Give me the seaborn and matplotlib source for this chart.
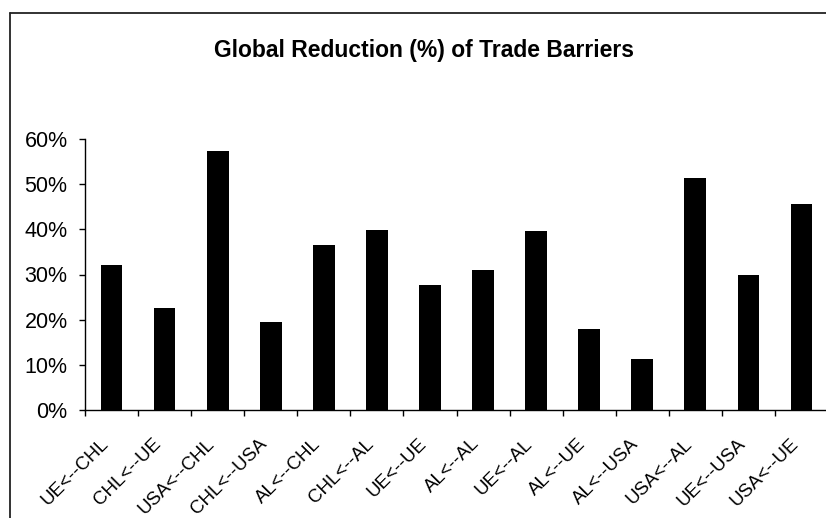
import matplotlib
matplotlib.use("Agg")
import matplotlib.pyplot as plt
import matplotlib.ticker as mticker
import matplotlib.transforms as mtransforms
from matplotlib.lines import Line2D
import numpy as np
import pandas as pd
import seaborn as sns

# %% data
routes = ["UE<--CHL", "CHL<--UE", "USA<--CHL", "CHL<--USA", "AL<--CHL", "CHL<--AL", "UE<--UE",
          "AL<--AL", "UE<--AL", "AL<--UE", "AL<--USA", "USA<--AL", "UE<--USA", "USA<--UE"]
reduction = [32.0, 22.5, 57.3, 19.5, 36.5, 39.8, 27.6, 30.9, 39.6, 17.9, 11.3, 51.4, 30.0, 45.6]
yticks = [0, 10, 20, 30, 40, 50, 60]

# %% style
sns.set_style("white")
plt.rcParams["font.family"] = ["Liberation Sans", "DejaVu Sans"]
plt.rcParams["text.color"] = "black"
plt.rcParams["xtick.color"] = "black"
plt.rcParams["ytick.color"] = "black"

W, H = 826, 518
fig = plt.figure(figsize=(W / 100, H / 100), dpi=100)
ax = fig.add_axes([85 / W, 108 / H, 743 / W, 271 / H])

df = pd.DataFrame({"route": routes, "reduction": reduction})
sns.barplot(data=df, x="route", y="reduction", color="black", saturation=1,
            width=0.41, edgecolor="black", linewidth=0, ax=ax)

ax.set_xlim(-0.5, len(routes) - 0.5)
ax.set_ylim(0, 60)
ax.set_yticks(yticks)
ax.yaxis.set_major_formatter(mticker.FuncFormatter(lambda v, p: "{:.0f}%".format(v)))
ax.set_xlabel("")
ax.set_ylabel("")

for s in ["top", "right"]:
    ax.spines[s].set_visible(False)
for s in ["left", "bottom"]:
    ax.spines[s].set_color("black")
    ax.spines[s].set_linewidth(1.0)

# category boundaries get the tick marks, labels sit under the bars
ax.set_xticks(np.arange(len(routes)))
ax.set_xticks(np.arange(len(routes) + 1) - 0.5, minor=True)
ax.set_xticklabels(routes, rotation=45, ha="right", rotation_mode="anchor")
ax.tick_params(axis="x", which="major", length=0, pad=16, labelsize=13.5)
ax.tick_params(axis="x", which="minor", length=4, width=1, direction="out")
ax.tick_params(axis="y", length=4.5, width=1, direction="out", labelsize=15.5, pad=8)
ax.tick_params(axis="y", left=True)
ax.tick_params(axis="x", bottom=True, which="minor")

shift = mtransforms.ScaledTranslation(-12 / 100, -3 / 100, fig.dpi_scale_trans)
for lab in ax.get_xticklabels():
    lab.set_transform(lab.get_transform() + shift)

fig.text(423.5 / W, 1 - 51 / H, "Global Reduction (%) of Trade Barriers",
         ha="center", va="center", fontsize=16.5, fontweight="bold")

# outer chart border (cropped at right and bottom)
fig.add_artist(Line2D([9.5 / W, 1.01], [1 - 13 / H, 1 - 13 / H], color="#222222", lw=1.3))
fig.add_artist(Line2D([9.5 / W, 9.5 / W], [1 - 13 / H, -0.01], color="#222222", lw=1.3))

fig.savefig("out.png", dpi=100)
